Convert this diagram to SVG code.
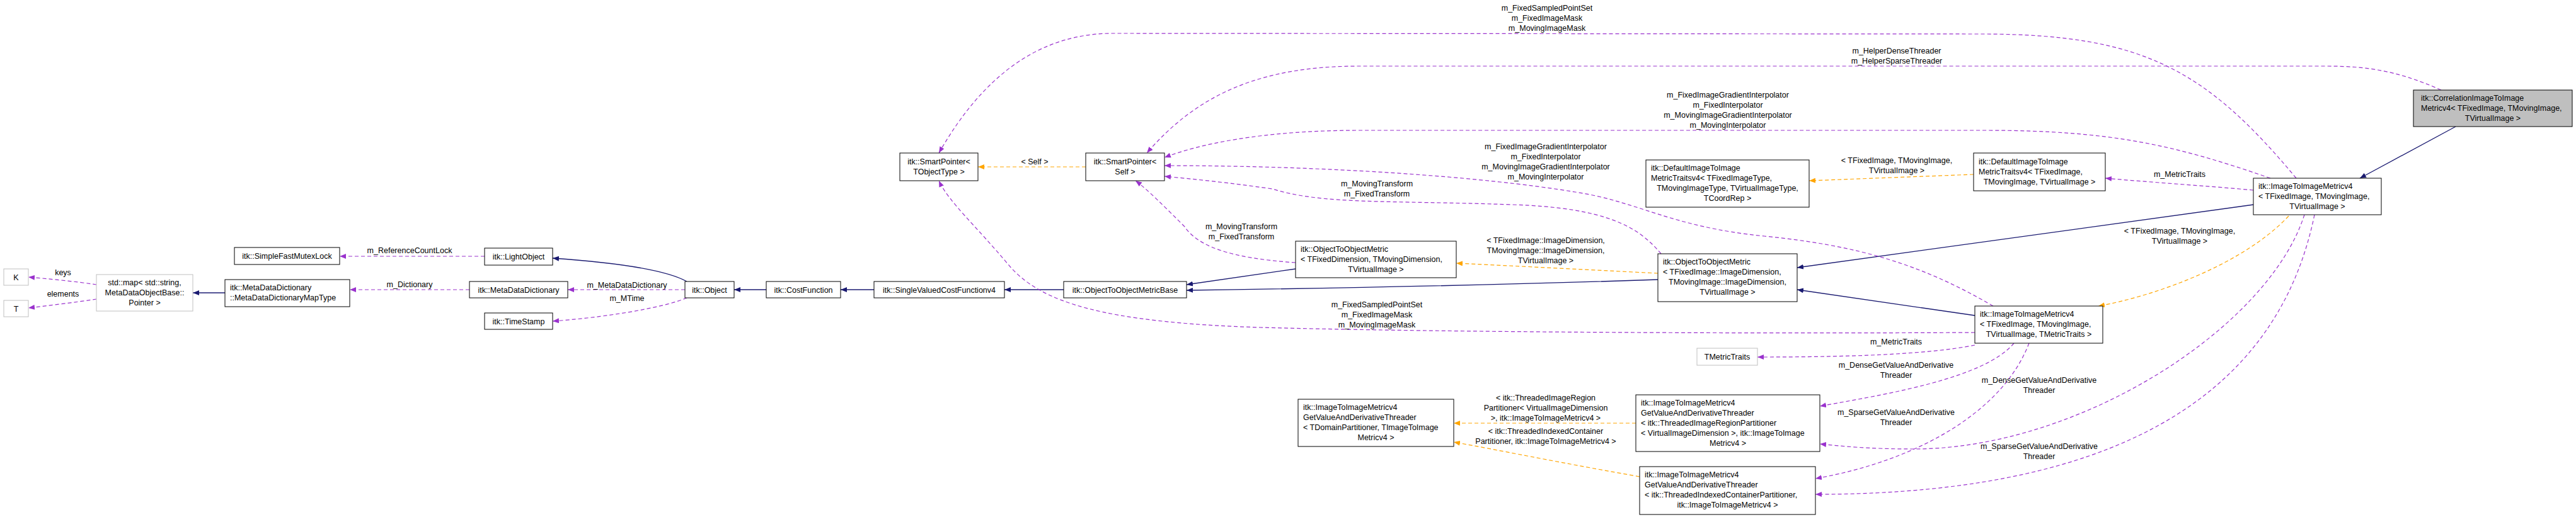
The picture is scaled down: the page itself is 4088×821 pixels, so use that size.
<svg xmlns="http://www.w3.org/2000/svg" width="4088" height="821" viewBox="0 0 4088 821">
<style>
text{font-family:"Liberation Sans",Arial,sans-serif;font-size:12.5px;fill:#000}
.c{text-anchor:middle}
.n rect{fill:#fff;stroke:#000;stroke-width:1}
.g rect{fill:#fff;stroke:#bfbfbf;stroke-width:1}
.h rect{fill:#bfbfbf;stroke:#000;stroke-width:1}
.p{fill:none;stroke:#9a32cd;stroke-width:1.2;stroke-dasharray:6,4}
.b{fill:none;stroke:#191970;stroke-width:1.3}
.o{fill:none;stroke:#ffa500;stroke-width:1.2;stroke-dasharray:6,4}
</style>
<defs>
<marker id="mp" markerUnits="userSpaceOnUse" markerWidth="11" markerHeight="8" refX="10" refY="4" orient="auto"><path d="M0,0 L10,4 L0,8 z" fill="#9a32cd"/></marker>
<marker id="mb" markerUnits="userSpaceOnUse" markerWidth="11" markerHeight="8" refX="10" refY="4" orient="auto"><path d="M0,0 L10,4 L0,8 z" fill="#191970"/></marker>
<marker id="mo" markerUnits="userSpaceOnUse" markerWidth="11" markerHeight="8" refX="10" refY="4" orient="auto"><path d="M0,0 L10,4 L0,8 z" fill="#ffa500"/></marker>
</defs>
<rect width="4088" height="821" fill="#fff"/>
<g id="edges">
<path class="p" marker-end="url(#mp)" d="M153,452 C120,447 80,443 45,440"/><text class="c" x="100" y="437">keys</text>
<path class="p" marker-end="url(#mp)" d="M153,475 C120,480 80,485 45,489"/><text class="c" x="100" y="471">elements</text>
<path class="b" marker-end="url(#mb)" d="M357,465 L306,465"/>
<path class="p" marker-end="url(#mp)" d="M769,407 L539,407"/><text class="c" x="650" y="402">m_ReferenceCountLock</text>
<path class="p" marker-end="url(#mp)" d="M745,460 L555,460"/><text class="c" x="650" y="456">m_Dictionary</text>
<path class="b" marker-end="url(#mb)" d="M1090,447 C1050,425 950,415 877,410"/>
<path class="p" marker-end="url(#mp)" d="M1087,460 L901,460"/><text class="c" x="995" y="457">m_MetaDataDictionary</text>
<path class="p" marker-end="url(#mp)" d="M1090,473 C1050,490 950,505 877,510"/><text class="c" x="995" y="478">m_MTime</text>
<path class="b" marker-end="url(#mb)" d="M1216,460 L1165,460"/>
<path class="b" marker-end="url(#mb)" d="M1387,460 L1334,460"/>
<path class="b" marker-end="url(#mb)" d="M1688,460 L1594,460"/>
<path class="b" marker-end="url(#mb)" d="M2056,427 L1883,452"/>
<path class="b" marker-end="url(#mb)" d="M2631,444 C2400,452 2100,458 1883,461"/>
<path class="o" marker-end="url(#mo)" d="M2631,434 C2550,430 2400,422 2311,418"/>
<text class="c" x="2453" y="386">&lt; TFixedImage::ImageDimension,</text><text class="c" x="2453" y="402">TMovingImage::ImageDimension,</text><text class="c" x="2453" y="418">TVirtualImage &gt;</text>
<path class="b" marker-end="url(#mb)" d="M3134,501 L2852,460"/>
<path class="b" marker-end="url(#mb)" d="M3576,325 L2852,425"/>
<path class="b" marker-end="url(#mb)" d="M3897,201 L3745,283"/>
<path class="o" marker-end="url(#mo)" d="M3632,343 C3560,420 3420,470 3330,486"/>
<text class="c" x="3459" y="371">&lt; TFixedImage, TMovingImage,</text><text class="c" x="3459" y="387">TVirtualImage &gt;</text>
<path class="p" marker-end="url(#mp)" d="M3576,302 C3500,295 3420,290 3341,283"/><text class="c" x="3459" y="281">m_MetricTraits</text>
<path class="o" marker-end="url(#mo)" d="M3132,277 L2871,287"/>
<text class="c" x="3010" y="259">&lt; TFixedImage, TMovingImage,</text><text class="c" x="3010" y="275">TVirtualImage &gt;</text>
<path class="p" marker-end="url(#mp)" d="M3134,548 C3050,565 2900,567 2789,567"/><text class="c" x="3009" y="547">m_MetricTraits</text>
<path class="p" marker-end="url(#mp)" d="M3196,545 C3150,600 3000,625 2888,645"/>
<text class="c" x="3009" y="584">m_DenseGetValueAndDerivative</text><text class="c" x="3009" y="600">Threader</text>
<path class="p" marker-end="url(#mp)" d="M3220,545 C3180,650 3050,730 2881,760"/>
<text class="c" x="3009" y="659">m_SparseGetValueAndDerivative</text><text class="c" x="3009" y="675">Threader</text>
<path class="p" marker-end="url(#mp)" d="M3657,341 C3600,520 3300,713 3037,713 C2960,713 2920,708 2888,705"/>
<text class="c" x="3236" y="608">m_DenseGetValueAndDerivative</text><text class="c" x="3236" y="624">Threader</text>
<path class="p" marker-end="url(#mp)" d="M3673,341 C3620,600 3400,785 2881,785"/>
<text class="c" x="3236" y="713">m_SparseGetValueAndDerivative</text><text class="c" x="3236" y="729">Threader</text>
<path class="o" marker-end="url(#mo)" d="M2596,672 L2307,672"/>
<text class="c" x="2453" y="636">&lt; itk::ThreadedImageRegion</text><text class="c" x="2453" y="652">Partitioner&lt; VirtualImageDimension</text><text class="c" x="2453" y="668">&gt;, itk::ImageToImageMetricv4 &gt;</text>
<path class="o" marker-end="url(#mo)" d="M2602,757 C2450,730 2380,715 2307,702"/>
<text class="c" x="2453" y="689">&lt; itk::ThreadedIndexedContainer</text><text class="c" x="2453" y="705">Partitioner, itk::ImageToImageMetricv4 &gt;</text>
<path class="p" marker-end="url(#mp)" d="M3644,283 C3500,110 3400,55 3150,54 L1766,53 C1650,53 1560,120 1490,243"/>
<text class="c" x="2455" y="17">m_FixedSampledPointSet</text><text class="c" x="2455" y="33">m_FixedImageMask</text><text class="c" x="2455" y="49">m_MovingImageMask</text>
<path class="p" marker-end="url(#mp)" d="M3874,143 C3800,110 3750,105 3690,105 L2157,105 C2000,105 1900,150 1820,243"/>
<text class="c" x="3010" y="85">m_HelperDenseThreader</text><text class="c" x="3010" y="101">m_HelperSparseThreader</text>
<path class="p" marker-end="url(#mp)" d="M3603,283 C3450,230 3350,207 3150,207 L2157,207 C2000,207 1900,230 1848,250"/>
<text class="c" x="2742" y="155">m_FixedImageGradientInterpolator</text><text class="c" x="2742" y="171">m_FixedInterpolator</text><text class="c" x="2742" y="187">m_MovingImageGradientInterpolator</text><text class="c" x="2742" y="203">m_MovingInterpolator</text>
<path class="p" marker-end="url(#mp)" d="M3163,486 C3050,420 2950,390 2800,375 C2650,360 2600,320 2500,305 C2350,280 2100,263 1848,263"/>
<text class="c" x="2453" y="237">m_FixedImageGradientInterpolator</text><text class="c" x="2453" y="253">m_FixedInterpolator</text><text class="c" x="2453" y="269">m_MovingImageGradientInterpolator</text><text class="c" x="2453" y="285">m_MovingInterpolator</text>
<path class="p" marker-end="url(#mp)" d="M2636,403 C2600,360 2550,330 2400,325 C2200,318 2100,325 2019,300 C1950,290 1900,285 1848,280"/>
<text class="c" x="2185" y="296">m_MovingTransform</text><text class="c" x="2185" y="312">m_FixedTransform</text>
<path class="p" marker-end="url(#mp)" d="M2056,417 C1950,410 1900,390 1880,360 C1850,330 1820,300 1802,287"/>
<text class="c" x="1970" y="364">m_MovingTransform</text><text class="c" x="1970" y="380">m_FixedTransform</text>
<path class="p" marker-end="url(#mp)" d="M3134,528 C2800,530 2300,528 2000,520 C1750,512 1650,480 1600,420 C1550,360 1505,320 1490,287"/>
<text class="c" x="2185" y="488">m_FixedSampledPointSet</text><text class="c" x="2185" y="504">m_FixedImageMask</text><text class="c" x="2185" y="520">m_MovingImageMask</text>
<path class="o" marker-end="url(#mo)" d="M1723,265 L1552,265"/><text class="c" x="1642" y="261">&lt; Self &gt;</text>
</g>
<g id="n_K" class="g"><rect x="6" y="427" width="39" height="26"/><text class="c" x="25.5" y="444.5">K</text></g>
<g id="n_T" class="g"><rect x="6" y="477" width="39" height="26"/><text class="c" x="25.5" y="494.5">T</text></g>
<g id="n_map" class="g"><rect x="153" y="436" width="153" height="58"/><text class="c" x="229.5" y="453">std::map&lt; std::string,</text><text class="c" x="229.5" y="469">MetaDataObjectBase::</text><text class="c" x="229.5" y="485">Pointer &gt;</text></g>
<g id="n_mapType" class="n"><rect x="357" y="444" width="198" height="43"/><text x="365" y="461">itk::MetaDataDictionary</text><text x="365" y="477">::MetaDataDictionaryMapType</text></g>
<g id="n_mutex" class="n"><rect x="372" y="393" width="167" height="27"/><text class="c" x="455.5" y="411">itk::SimpleFastMutexLock</text></g>
<g id="n_light" class="n"><rect x="769" y="394" width="108" height="27"/><text class="c" x="823" y="412">itk::LightObject</text></g>
<g id="n_mdd" class="n"><rect x="745" y="447" width="156" height="26"/><text class="c" x="823" y="464.5">itk::MetaDataDictionary</text></g>
<g id="n_ts" class="n"><rect x="769" y="497" width="108" height="26"/><text class="c" x="823" y="514.5">itk::TimeStamp</text></g>
<g id="n_object" class="n"><rect x="1087" y="447" width="78" height="26"/><text class="c" x="1126" y="464.5">itk::Object</text></g>
<g id="n_cost" class="n"><rect x="1216" y="447" width="118" height="26"/><text class="c" x="1275" y="464.5">itk::CostFunction</text></g>
<g id="n_svcf" class="n"><rect x="1387" y="447" width="207" height="26"/><text class="c" x="1490.5" y="464.5">itk::SingleValuedCostFunctionv4</text></g>
<g id="n_base" class="n"><rect x="1688" y="447" width="195" height="26"/><text class="c" x="1785.5" y="464.5">itk::ObjectToObjectMetricBase</text></g>
<g id="n_spT" class="n"><rect x="1428" y="243" width="124" height="44"/><text class="c" x="1490" y="261">itk::SmartPointer&lt;</text><text class="c" x="1490" y="277">TObjectType &gt;</text></g>
<g id="n_spS" class="n"><rect x="1723" y="243" width="125" height="44"/><text class="c" x="1785.5" y="261">itk::SmartPointer&lt;</text><text class="c" x="1785.5" y="277">Self &gt;</text></g>
<g id="n_otomD" class="n"><rect x="2056" y="383" width="255" height="58"/><text x="2064" y="400">itk::ObjectToObjectMetric</text><text x="2064" y="416">&lt; TFixedDimension, TMovingDimension,</text><text class="c" x="2183.5" y="432">TVirtualImage &gt;</text></g>
<g id="n_otomI" class="n"><rect x="2631" y="403" width="221" height="76"/><text x="2639" y="420">itk::ObjectToObjectMetric</text><text x="2639" y="436">&lt; TFixedImage::ImageDimension,</text><text class="c" x="2741.5" y="452">TMovingImage::ImageDimension,</text><text class="c" x="2741.5" y="468">TVirtualImage &gt;</text></g>
<g id="n_dtType" class="n"><rect x="2612" y="254" width="259" height="75"/><text x="2620" y="271">itk::DefaultImageToImage</text><text x="2620" y="287">MetricTraitsv4&lt; TFixedImageType,</text><text class="c" x="2741.5" y="303">TMovingImageType, TVirtualImageType,</text><text class="c" x="2741.5" y="319">TCoordRep &gt;</text></g>
<g id="n_dtImg" class="n"><rect x="3132" y="243" width="209" height="60"/><text x="3140" y="261">itk::DefaultImageToImage</text><text x="3140" y="277">MetricTraitsv4&lt; TFixedImage,</text><text class="c" x="3236.5" y="293">TMovingImage, TVirtualImage &gt;</text></g>
<g id="n_itim" class="n"><rect x="3576" y="283" width="203" height="58"/><text x="3584" y="300">itk::ImageToImageMetricv4</text><text x="3584" y="316">&lt; TFixedImage, TMovingImage,</text><text class="c" x="3677.5" y="332">TVirtualImage &gt;</text></g>
<g id="n_itimT" class="n"><rect x="3134" y="486" width="203" height="59"/><text x="3142" y="503">itk::ImageToImageMetricv4</text><text x="3142" y="519">&lt; TFixedImage, TMovingImage,</text><text class="c" x="3235.5" y="535">TVirtualImage, TMetricTraits &gt;</text></g>
<g id="n_corr" class="h"><rect x="3830" y="143" width="252" height="58"/><text x="3842" y="160">itk::CorrelationImageToImage</text><text x="3842" y="176">Metricv4&lt; TFixedImage, TMovingImage,</text><text class="c" x="3956" y="192">TVirtualImage &gt;</text></g>
<g id="n_mt" class="g"><rect x="2693" y="553" width="96" height="27"/><text class="c" x="2741" y="571">TMetricTraits</text></g>
<g id="n_gDom" class="n"><rect x="2060" y="634" width="247" height="75"/><text x="2068" y="651">itk::ImageToImageMetricv4</text><text x="2068" y="667">GetValueAndDerivativeThreader</text><text x="2068" y="683">&lt; TDomainPartitioner, TImageToImage</text><text class="c" x="2183.5" y="699">Metricv4 &gt;</text></g>
<g id="n_gReg" class="n"><rect x="2596" y="627" width="292" height="90"/><text x="2604" y="644">itk::ImageToImageMetricv4</text><text x="2604" y="660">GetValueAndDerivativeThreader</text><text x="2604" y="676">&lt; itk::ThreadedImageRegionPartitioner</text><text x="2604" y="692">&lt; VirtualImageDimension &gt;, itk::ImageToImage</text><text class="c" x="2742" y="708">Metricv4 &gt;</text></g>
<g id="n_gIdx" class="n"><rect x="2602" y="741" width="279" height="76"/><text x="2610" y="758">itk::ImageToImageMetricv4</text><text x="2610" y="774">GetValueAndDerivativeThreader</text><text x="2610" y="790">&lt; itk::ThreadedIndexedContainerPartitioner,</text><text class="c" x="2741.5" y="806">itk::ImageToImageMetricv4 &gt;</text></g>
</svg>
